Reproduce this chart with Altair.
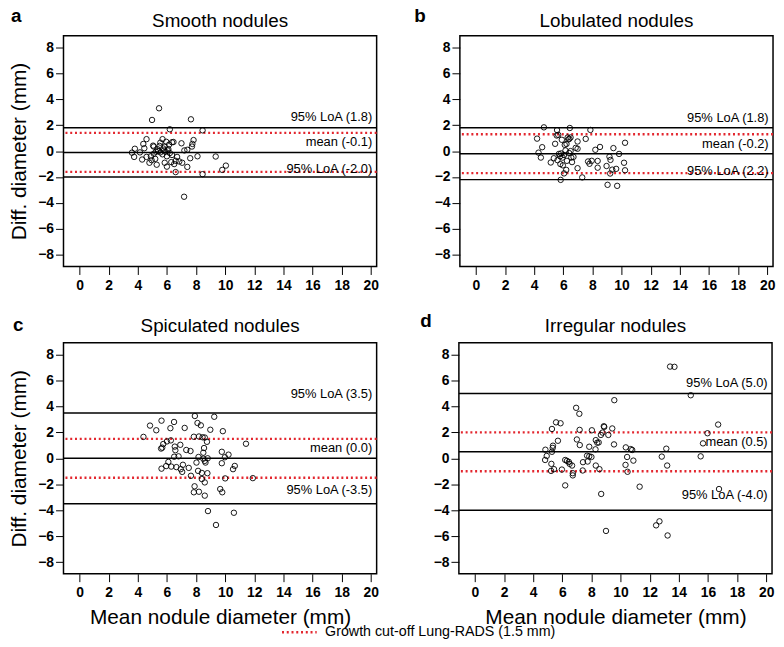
import altair as alt
import pandas as pd

FONT = "Liberation Sans"
RED = "#e3262e"
LEGEND_LABEL = "Growth cut-off Lung-RADS (1.5 mm)"

# ---------------- data ----------------
titles = ["Smooth nodules", "Lobulated nodules", "Spiculated nodules", "Irregular nodules"]
letters = ["a", "b", "c", "d"]

a_x = [5.46, 4.98, 7.65, 6.20, 8.45, 4.60, 5.70, 7.83, 6.35, 6.45, 7.00, 4.38, 5.05, 5.10, 5.55, 5.95,
       7.75, 7.72, 4.45, 3.80, 5.85, 6.10, 5.75, 7.20, 7.40, 3.60, 4.15, 3.75, 4.30, 4.60, 4.90, 5.10,
       5.25, 5.40, 5.55, 5.70, 5.90, 6.05, 6.20, 6.35, 5.35, 5.80, 6.00, 8.10, 9.35, 4.80, 5.30, 5.85,
       6.00, 6.60, 6.85, 7.05, 6.30, 6.50, 7.40, 6.60, 8.45, 9.80, 10.05, 7.18, 5.20, 6.70, 5.50, 6.15,
       4.95, 7.60]
a_y = [3.30, 2.40, 2.45, 1.68, 1.60, 0.92, 0.92, 0.85, 0.68, 0.70, 0.60, 0.55, 0.42, 0.35, 0.65, 0.72,
       0.55, 0.35, 0.22, 0.18, 0.35, 0.15, 0.20, 0.05, 0.10, -0.12, -0.10, -0.45, -0.65, -0.45, -0.40, -0.20,
       -0.05, 0.00, -0.10, -0.25, -0.05, 0.05, -0.15, -0.30, 0.15, 0.05, -0.40, -0.40, -0.42, -0.90, -1.05, -0.90,
       -1.20, -0.75, -0.80, -0.90, -0.85, -1.00, -1.22, -1.62, -1.78, -1.45, -1.12, -3.52, -0.60, -0.45, 0.40, 0.50,
       -0.70, -0.55]

b_x = [4.67, 5.57, 6.45, 7.86, 4.20, 5.55, 5.65, 6.30, 6.42, 6.35, 6.50, 7.54, 5.90, 10.24, 6.98, 4.55,
       5.44, 6.10, 6.22, 6.98, 8.52, 8.20, 9.44, 9.83, 4.30, 4.46, 5.14, 5.70, 5.85, 5.78, 5.95, 6.05,
       5.60, 6.50, 6.55, 6.40, 6.60, 6.25, 5.80, 5.97, 6.20, 6.05, 6.98, 7.30, 5.82, 7.70, 7.80, 7.95,
       8.36, 8.36, 8.97, 9.17, 9.24, 9.22, 9.36, 9.63, 10.17, 10.24, 9.04, 9.70, 6.15, 6.70, 5.35, 6.85]
b_y = [1.83, 1.62, 1.78, 1.63, 0.96, 1.20, 1.25, 1.05, 0.95, 0.90, 1.05, 0.94, 0.87, 0.64, 0.74, 0.30,
       0.56, 0.48, 0.55, 0.18, 0.32, 0.10, 0.23, -0.22, -0.12, -0.50, -0.88, -0.22, -0.18, -0.40, -0.50, -0.30,
       -0.70, 0.00, -0.50, -0.15, -0.85, -0.75, -1.00, -1.10, -1.45, -1.72, -1.32, -2.03, -2.22, -0.80, -0.98, -0.75,
       -0.76, -1.28, -1.15, -0.43, -0.68, -1.73, -1.43, -1.37, -0.90, -1.48, -2.60, -2.68, 0.05, -0.45, -0.55, 0.25]

c_x = [4.84, 5.27, 5.63, 6.49, 6.24, 7.22, 7.92, 8.10, 8.33, 9.25, 8.98, 9.84, 4.39, 7.85, 8.20, 8.45,
       8.60, 8.75, 11.43, 6.00, 6.27, 5.75, 6.54, 6.92, 6.58, 5.60, 5.68, 7.33, 7.62, 8.55, 8.50, 6.50,
       6.80, 8.17, 8.50, 8.60, 8.80, 8.65, 9.77, 10.23, 9.98, 6.10, 5.95, 6.30, 5.63, 6.65, 6.95, 7.10,
       7.05, 7.50, 8.03, 8.14, 8.40, 8.78, 9.77, 10.54, 10.66, 7.65, 8.40, 8.60, 10.00, 11.90, 7.90, 7.85,
       8.20, 8.60, 9.66, 9.80, 8.82, 10.60, 9.37]
c_y = [2.52, 2.16, 2.90, 2.80, 2.32, 2.34, 3.26, 2.72, 2.54, 3.20, 2.20, 2.09, 1.65, 1.66, 1.68, 1.62,
       1.60, 1.27, 1.12, 1.30, 1.38, 1.10, 0.90, 1.04, 0.62, 0.75, 0.82, 0.64, 0.56, 0.79, 0.43, 0.12,
       0.15, 0.10, -0.03, -0.20, 0.00, -0.33, 0.50, 0.28, 0.08, -0.28, -0.60, -0.64, -0.80, -0.68, -0.84, -0.50,
       -1.05, -0.74, -0.33, -0.97, -1.13, -1.15, -0.38, -0.84, -0.59, -1.35, -1.60, -1.86, -1.55, -1.53, -2.16, -2.62,
       -2.58, -2.88, -2.37, -2.62, -4.07, -4.20, -5.14]

d_x = [13.40, 13.70, 14.82, 9.57, 6.95, 7.17, 5.57, 5.88, 16.70, 8.85, 8.88, 9.43, 5.29, 7.19, 8.03, 8.76,
       8.65, 9.16, 15.97, 5.70, 7.00, 8.30, 8.40, 8.50, 7.20, 9.55, 15.66, 5.36, 5.34, 7.85, 10.36, 10.70,
       10.80, 13.14, 4.84, 8.28, 5.29, 4.93, 4.82, 7.70, 7.85, 8.00, 10.45, 12.83, 15.50, 6.20, 6.32, 6.45,
       7.42, 7.74, 10.88, 5.25, 6.50, 6.67, 8.30, 10.34, 13.20, 5.23, 5.43, 5.97, 6.72, 6.72, 7.40, 8.55,
       10.48, 6.20, 11.31, 8.67, 16.76, 12.44, 12.67, 9.00, 13.23]
d_y = [7.07, 7.05, 4.86, 4.48, 3.89, 3.43, 2.77, 2.70, 2.60, 2.47, 2.42, 2.30, 2.26, 2.19, 2.16, 1.98,
       1.80, 1.80, 1.93, 1.35, 1.45, 1.40, 1.20, 1.22, 1.02, 1.07, 1.15, 0.97, 0.80, 0.89, 0.84, 0.71,
       0.64, 0.74, 0.66, 0.69, 0.50, 0.18, -0.13, 0.20, 0.15, 0.10, 0.10, 0.13, 0.15, -0.13, -0.20, -0.28,
       -0.30, -0.25, -0.18, -0.43, -0.43, -0.56, -0.56, -0.51, -0.56, -0.97, -0.84, -0.87, -1.15, -1.32, -0.94, -0.84,
       -1.04, -2.09, -2.19, -2.75, -2.37, -5.17, -4.86, -5.60, -5.95]

xs = [a_x, b_x, c_x, d_x]
ys = [a_y, b_y, c_y, d_y]

loa_upper = [1.8, 1.8, 3.5, 5.0]
means = [-0.1, -0.2, 0.0, 0.5]
loa_lower = [-2.0, -2.2, -3.5, -4.0]
cutoff = 1.5  # Lung-RADS growth cut-off around the mean

label_texts = [
    ["95% LoA (1.8)", "mean (-0.1)", "95% LoA (-2.0)"],
    ["95% LoA (1.8)", "mean (-0.2)", "95% LoA (2.2)"],
    ["95% LoA (3.5)", "mean (0.0)", "95% LoA (-3.5)"],
    ["95% LoA (5.0)", "mean (0.5)", "95% LoA (-4.0)"],
]
# vertical placement of the annotation texts (data units)
label_pos = [
    [2.60, 0.71, -1.37],
    [2.54, 0.56, -1.53],
    [4.94, 0.82, -2.47],
    [5.80, 1.22, -2.82],
]

x_ticks = list(range(0, 21, 2))
y_ticks = list(range(-8, 9, 2))

# ---------------- layout ----------------
PW, PH = 316, 233
letter_off = [(-53, -14), (-46, -14), (-51, -12), (-39, -16)]
title_off = [-9, -9, -11, -11]


def panel(i, y_title, x_title):
    xscale = alt.Scale(domain=[-1.1, 20.4], nice=False, zero=False)
    yscale = alt.Scale(domain=[-8.9, 8.9], nice=False, zero=False)
    xaxis = alt.Axis(values=x_ticks, domain=False, grid=False, tickSize=8, tickColor="black",
                     tickWidth=1, labelFontSize=14, labelFontWeight="bold", labelColor="black",
                     labelPadding=4, titleFontSize=21, titleFontWeight="normal", titleColor="black",
                     titlePadding=7)
    yaxis = alt.Axis(values=y_ticks, domain=False, grid=False, tickSize=8, tickColor="black",
                     tickWidth=1, labelFontSize=14, labelFontWeight="bold", labelColor="black",
                     labelPadding=2, titleFontSize=21, titleFontWeight="normal", titleColor="black",
                     titlePadding=8)

    def X(field):
        return alt.X(field, type="quantitative", scale=xscale, axis=xaxis, title=x_title)

    def Y(field):
        return alt.Y(field, type="quantitative", scale=yscale, axis=yaxis, title=y_title)

    pts = pd.DataFrame({"x": xs[i], "y": ys[i]})
    points = alt.Chart(pts).mark_point(shape="circle", filled=False, color="black",
                                       size=30, strokeWidth=0.9, opacity=1).encode(x=X("x"), y=Y("y"))

    blk = pd.DataFrame({"y": [loa_upper[i], means[i], loa_lower[i]]})
    black_rules = alt.Chart(blk).mark_rule(color="black", strokeWidth=1.5).encode(y=Y("y"))

    red = pd.DataFrame({"y": [means[i] + cutoff, means[i] - cutoff],
                        "lab": [LEGEND_LABEL, LEGEND_LABEL]})
    red_rules = alt.Chart(red).mark_rule(strokeWidth=2.4, strokeDash=[2, 2.8]).encode(
        y=Y("y"),
        color=alt.Color("lab:N", scale=alt.Scale(domain=[LEGEND_LABEL], range=[RED]),
                        legend=alt.Legend(orient="none", legendX=219, legendY=583, title=None,
                                          symbolType="stroke", symbolSize=1225, symbolDash=[2, 2.8],
                                          symbolStrokeWidth=2.4, labelFontSize=14.4, labelColor="black",
                                          labelFont=FONT, labelOffset=7, labelLimit=500, padding=0)),
    )

    labs = pd.DataFrame({"x": [20.1] * 3, "y": label_pos[i], "t": label_texts[i]})
    labels = alt.Chart(labs).mark_text(align="right", baseline="middle", fontSize=13,
                                       color="black", font=FONT).encode(x=X("x"), y=Y("y"), text="t:N")

    lx, ly = letter_off[i]
    head = pd.DataFrame({"t": [letters[i]], "n": [titles[i]]})
    letter = alt.Chart(head).mark_text(
        align="left", baseline="alphabetic", fontSize=19, fontWeight="bold", color="black", font=FONT
    ).encode(x=alt.value(lx), y=alt.value(ly), text="t:N")
    title = alt.Chart(head).mark_text(
        align="center", baseline="alphabetic", fontSize=19, color="black", font=FONT
    ).encode(x=alt.value(PW / 2), y=alt.value(title_off[i]), text="n:N")

    return alt.layer(red_rules, black_rules, points, labels, letter, title).properties(
        width=PW, height=PH)


Y_T = "Diff. diameter (mm)"
X_T = "Mean nodule diameter (mm)"

pa = panel(0, Y_T, None)
pb = panel(1, None, None)
pc = panel(2, Y_T, X_T)
pd_ = panel(3, None, X_T)

row1 = alt.hconcat(pa, pb, spacing=34)
row2 = alt.hconcat(pc, pd_, spacing=40)

chart = alt.vconcat(row1, row2, spacing=18).properties(
    padding={"top": -5, "left": 0, "right": 0, "bottom": 0}
).configure(font=FONT).configure_view(stroke="black", strokeWidth=1.5)

chart.save("out.html", embed_options={"renderer": "svg", "actions": False})
